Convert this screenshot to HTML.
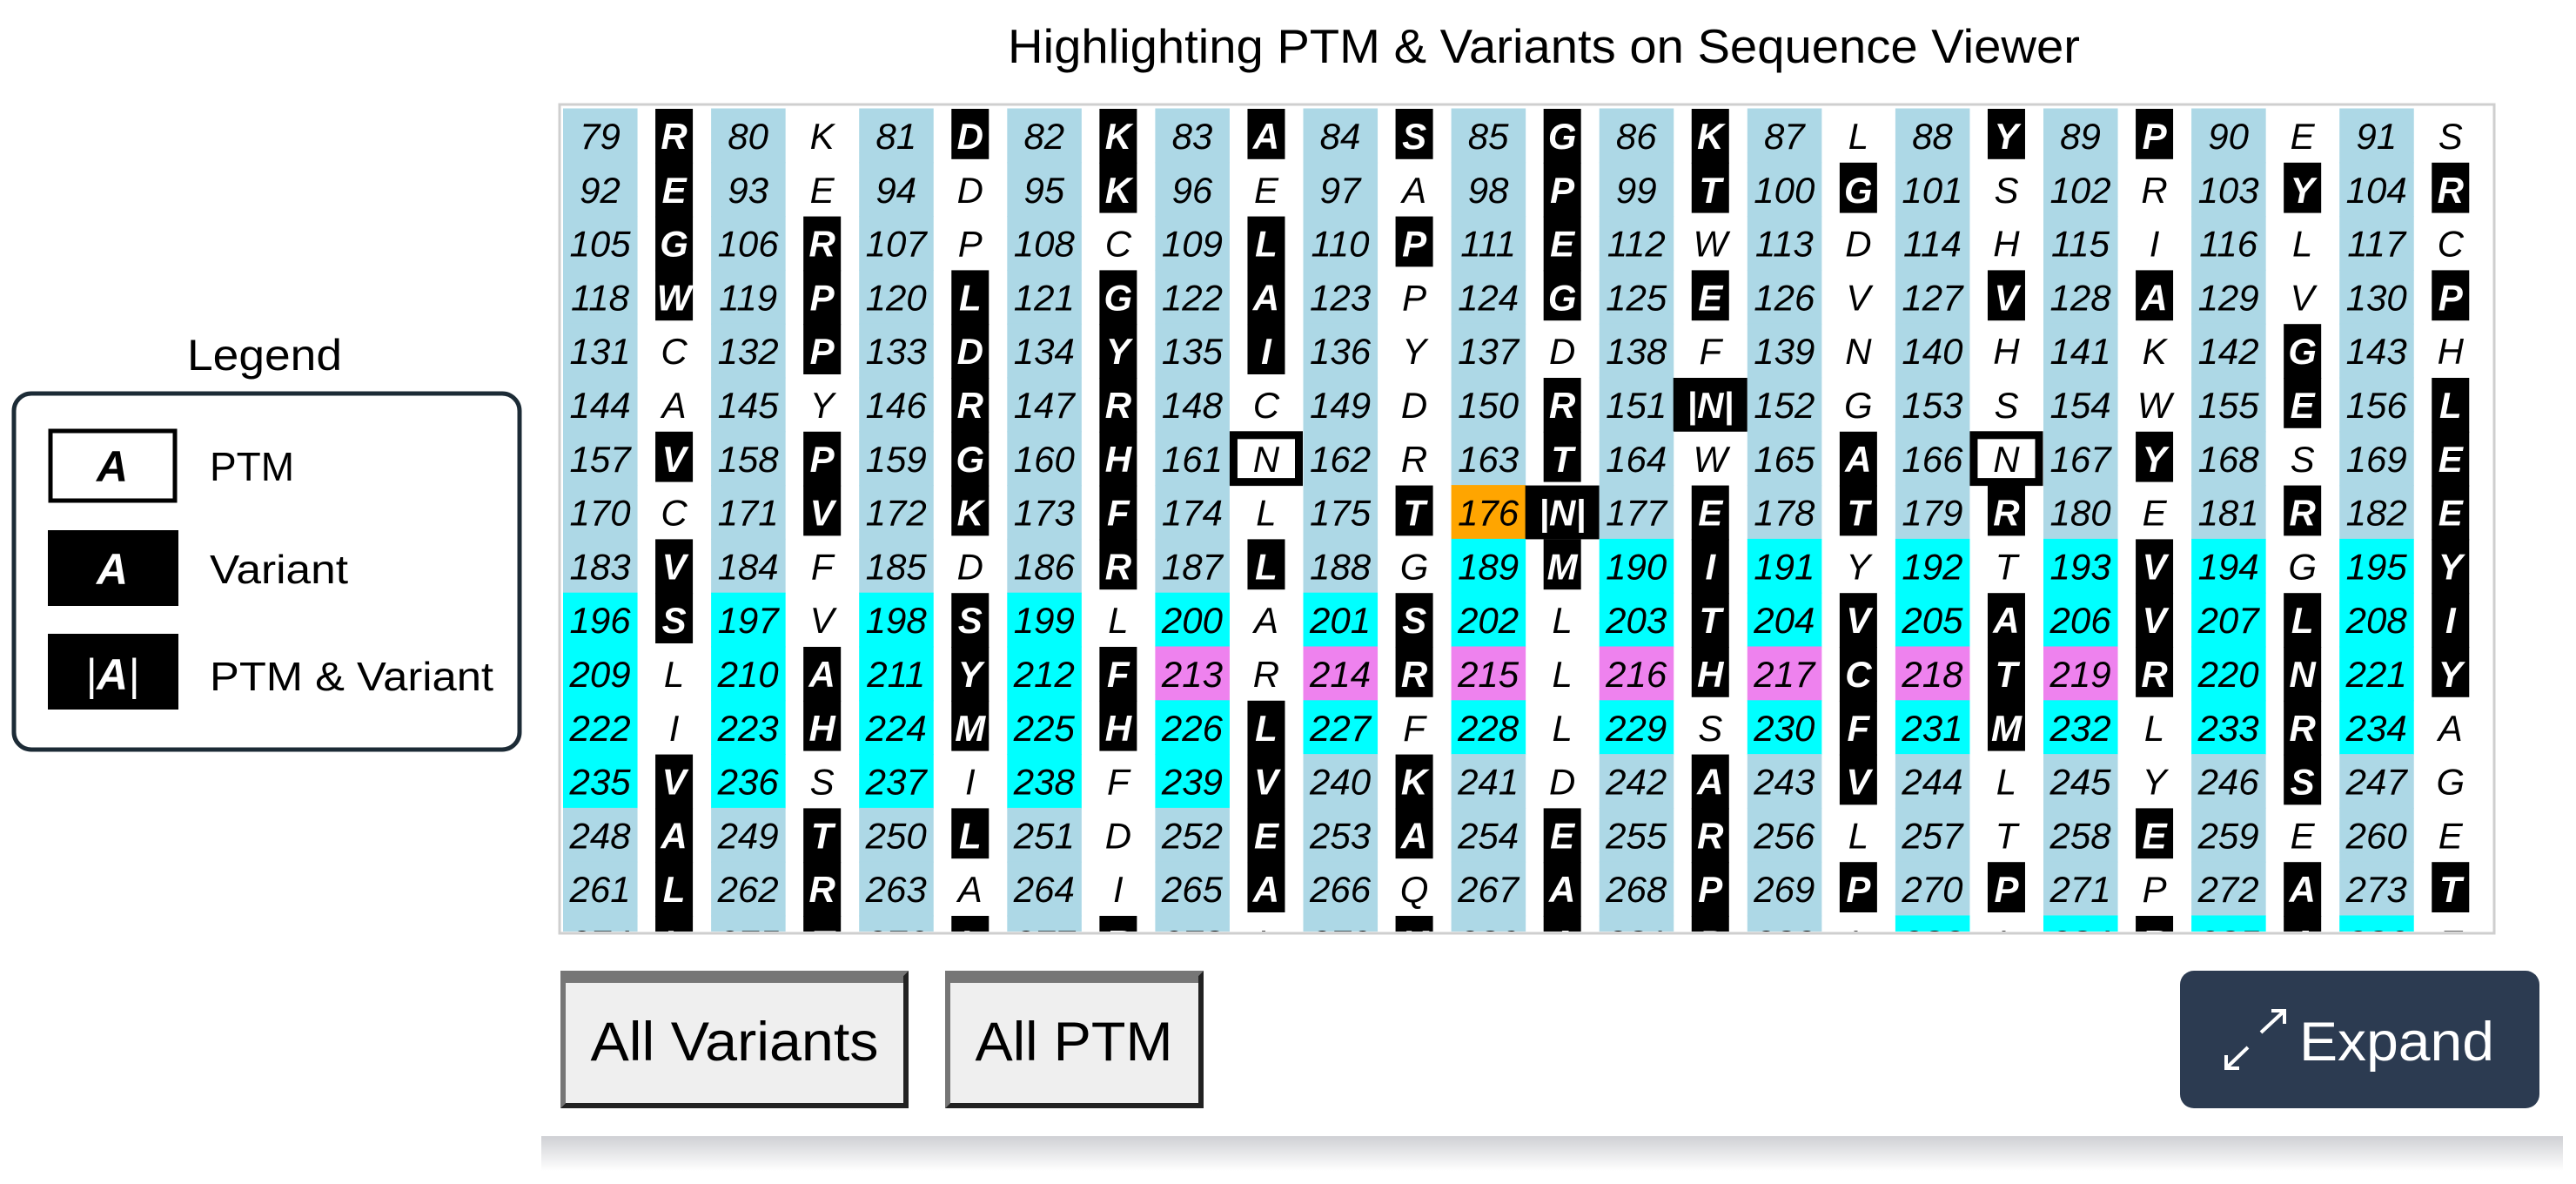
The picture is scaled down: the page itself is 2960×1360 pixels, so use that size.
<!DOCTYPE html>
<html><head><meta charset="utf-8"><style>
html,body{margin:0;padding:0;background:#fff;}
svg{display:block;font-family:"Liberation Sans",sans-serif;}
</style></head><body>
<svg id="root" width="2960" height="1360" viewBox="0 0 2960 1360" xmlns="http://www.w3.org/2000/svg">
  <defs>
    <linearGradient id="shadowGrad" x1="0" y1="0" x2="0" y2="1">
      <stop offset="0" stop-color="#cfd0d4"/>
      <stop offset="1" stop-color="#ffffff"/>
    </linearGradient>
    <clipPath id="gridClip"><rect x="645" y="122" width="2219" height="948"/></clipPath>
  </defs>
  <text x="1774" y="72" font-size="55" text-anchor="middle" textLength="1232" lengthAdjust="spacingAndGlyphs">Highlighting PTM &amp; Variants on Sequence Viewer</text>

  <!-- Legend -->
  <g>
    <text x="304" y="425" font-size="50" text-anchor="middle" textLength="178" lengthAdjust="spacingAndGlyphs">Legend</text>
    <rect x="16" y="452" width="581" height="409" rx="20" fill="#fff" stroke="#1c2b36" stroke-width="5"/>
    <g>
      <rect x="58" y="495" width="143" height="80" fill="#fff" stroke="#000" stroke-width="5"/>
      <text x="129" y="553" font-size="50" font-weight="bold" font-style="italic" text-anchor="middle">A</text>
      <text x="241" y="552" font-size="46">PTM</text>
    </g>
    <g>
      <rect x="55" y="609" width="150" height="87" fill="#000"/>
      <text x="129" y="671" font-size="50" font-weight="bold" font-style="italic" text-anchor="middle" fill="#fff">A</text>
      <text x="241" y="670" font-size="46" textLength="159" lengthAdjust="spacingAndGlyphs">Variant</text>
    </g>
    <g>
      <rect x="55" y="728" width="150" height="87" fill="#000"/>
      <text x="129" y="792" font-size="50" font-style="italic" text-anchor="middle" fill="#fff">|<tspan font-weight="bold">A</tspan>|</text>
      <text x="241" y="793" font-size="46" textLength="326" lengthAdjust="spacingAndGlyphs">PTM &amp; Variant</text>
    </g>
  </g>

  <!-- Grid -->
  <rect x="643" y="120" width="2223" height="952" fill="#fff" stroke="#cfcfcf" stroke-width="3"/>
  <g id="grid" clip-path="url(#gridClip)"></g>

  <!-- Buttons -->
  <g>
    <rect x="644" y="1115" width="400" height="158" fill="#efefef"/>
    <path d="M644 1115 H1044 L1038 1121 H650 V1267 L644 1273 Z" fill="#767676"/>
    <path d="M1044 1115 V1273 H644 L650 1267 H1038 V1121 Z" fill="#222"/>
    <rect x="650" y="1121" width="388" height="8" fill="#767676"/>
    <text x="844" y="1218" font-size="63" text-anchor="middle" textLength="331" lengthAdjust="spacingAndGlyphs">All Variants</text>
  </g>
  <g>
    <rect x="1086" y="1115" width="297" height="158" fill="#efefef"/>
    <path d="M1086 1115 H1383 L1377 1121 H1092 V1267 L1086 1273 Z" fill="#767676"/>
    <path d="M1383 1115 V1273 H1086 L1092 1267 H1377 V1121 Z" fill="#222"/>
    <rect x="1092" y="1121" width="285" height="8" fill="#767676"/>
    <text x="1234" y="1218" font-size="63" text-anchor="middle" textLength="227" lengthAdjust="spacingAndGlyphs">All PTM</text>
  </g>
  <g>
    <rect x="2505" y="1115" width="413" height="158" rx="16" fill="#2c3b51"/>
    <g stroke="#fff" stroke-width="4" fill="none">
      <path d="M2598 1186 L2625 1161 M2610 1161 H2625 V1176"/>
      <path d="M2583 1203 L2558 1227 M2558 1212 V1227 H2573"/>
    </g>
    <text x="2642" y="1218" font-size="63" fill="#fff" textLength="224" lengthAdjust="spacingAndGlyphs">Expand</text>
  </g>

  <rect x="622" y="1305" width="2323" height="40" fill="url(#shadowGrad)"/>
</svg>
<script>
// Sequence data: one string per row of 13 residues
var residues = [
  "RKDKASGKLYPES","EEDKEAPTGSRYR","GRPCLPEWDHILC","WPLGAPGEVVAVP",
  "CPDYIYDFNHKGH","AYRRCDRNGSWEL","VPGHNRTWANYSE","CVKFLTNETRERE",
  "VFDRLGMIYTVGY","SVSLASLTVAVLI","LAYFRRLHCTRNY","IHMHLFLSFMLRA",
  "VSIFVKDAVLYSG","ATLDEAERLTEEE","LRAIAQAPPPPAT","LTLRLKAPLLRAE"
];
// Annotation per residue: V=variant, P=PTM, B=PTM & variant, .=none
var annotations = [
  "V.VVVVVV.VV..","V..V..VVV..VV","VV..VVV......","VVVVV.VV.VV.V",
  ".VVVV......V.","..VV..VB...VV","VVVVP.V.VPV.V",".VVV.VBVVV.VV",
  "V..VV.VV..V.V","V.V..V.VVVVVV",".VVV.V.VVVVVV",".VVVV...VV.V.",
  "V...VV.VV..V.","VVV.VVVV..V..","VV..V.VVVV.VV","VVVV.VVV..VV."
];
// Highlight of position numbers: b=default, c=cyan region, v=violet, o=orange
var numberHighlights = [
  "bbbbbbbbbbbbb","bbbbbbbbbbbbb","bbbbbbbbbbbbb","bbbbbbbbbbbbb",
  "bbbbbbbbbbbbb","bbbbbbbbbbbbb","bbbbbbbbbbbbb","bbbbbbobbbbbb",
  "bbbbbbccccccc","ccccccccccccc","ccccvvvvvvvcc","ccccccccccccc",
  "cccccbbbbbbbb","bbbbbbbbbbbbb","bbbbbbbbbbbbb","bbbbbbbbbcccc"
];
var startPosition = 79;
var perRow = 13;

var NS = "http://www.w3.org/2000/svg";
var grid = document.getElementById("grid");
var X0 = 647, COLW = 85.05, Y0 = 125, ROWH = 61.8;
var colors = { b: "#add8e6", c: "#00ffff", v: "#ee82ee", o: "#ffa500" };
function colX(i) { return X0 + i * COLW; }
function rowY(r) { return Y0 + r * ROWH; }
function mk(tag, attrs) {
  var e = document.createElementNS(NS, tag);
  for (var k in attrs) e.setAttribute(k, attrs[k]);
  return e;
}
for (var r = 0; r < residues.length; r++) {
  for (var c = 0; c < perRow; c++) {
    var num = startPosition + r * perRow + c;
    var nx = colX(2 * c), y = rowY(r);
    var bg = mk("rect", { x: nx, y: y - 0.5, width: COLW + 0.5, height: ROWH + 1, fill: colors[numberHighlights[r][c]] });
    
    
    grid.appendChild(bg);
    var nt = mk("text", { x: nx + COLW / 2, y: y + 46, "font-size": 42, "font-style": "italic", "text-anchor": "middle" });
    nt.textContent = num;
    
    
    grid.appendChild(nt);

    var lx = colX(2 * c + 1);
    var a = annotations[r][c], ch = residues[r][c];
    var nextA = r + 1 < annotations.length ? annotations[r + 1][c] : "V";
    var txt = mk("text", { x: lx + COLW / 2, y: y + 46, "font-size": 42, "font-style": "italic", "text-anchor": "middle" });
    if (a === "V") {
      var h = (nextA === "V") ? ROWH + 1 : ROWH - 4;
      var bar = mk("rect", { x: lx + COLW / 2 - 21.5, y: y, width: 43, height: h, fill: "#000" });
      
      
      grid.appendChild(bar);
      txt.setAttribute("fill", "#fff");
      txt.setAttribute("font-weight", "bold");
      txt.textContent = ch;
    } else if (a === "P") {
      var box = mk("rect", { x: lx + 5, y: y + 4, width: COLW - 10, height: ROWH - 8, fill: "#fff", stroke: "#000", "stroke-width": 9 });
      
      
      grid.appendChild(box);
      txt.textContent = ch;
    } else if (a === "B") {
      var both = mk("rect", { x: lx, y: y, width: COLW, height: ROWH, fill: "#000" });
      
      
      grid.appendChild(both);
      txt.setAttribute("fill", "#fff");
      txt.setAttribute("font-weight", "bold");
      txt.textContent = "|" + ch + "|";
    } else {
      txt.textContent = ch;
    }
    
    
    grid.appendChild(txt);
  }
}
</script>
</body></html>
